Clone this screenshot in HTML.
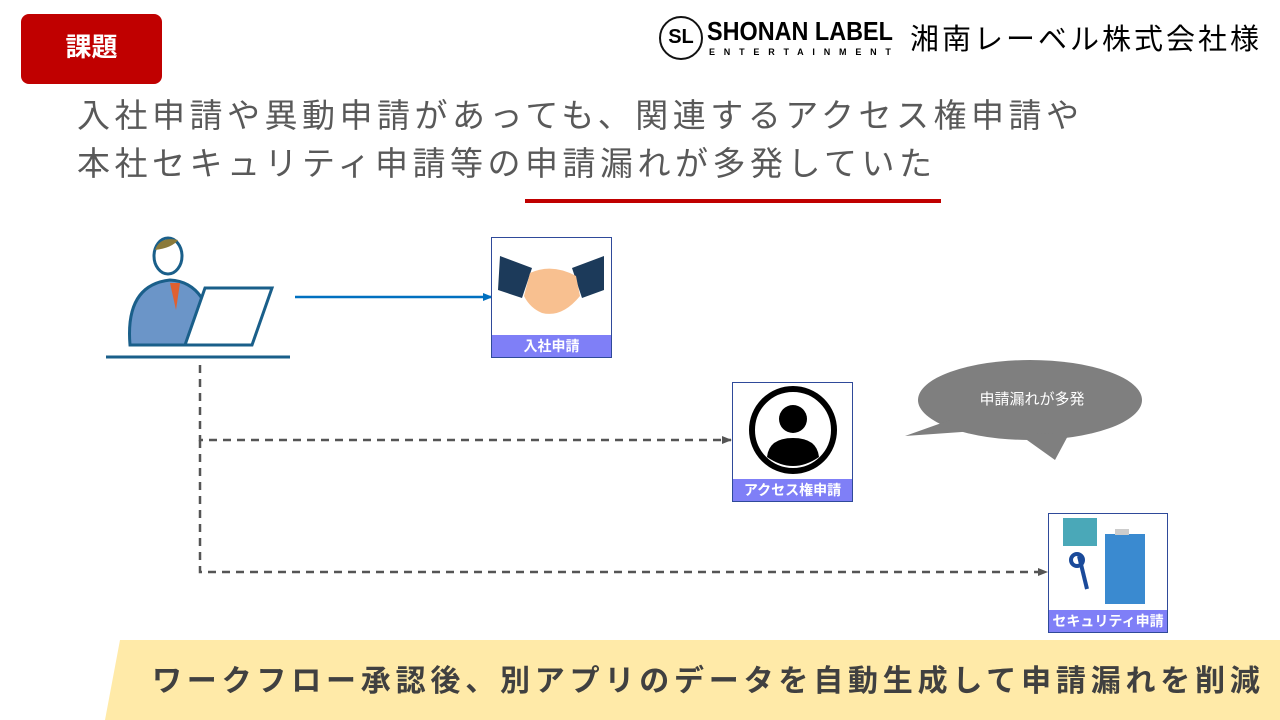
<!DOCTYPE html>
<html><head><meta charset="utf-8"><style>
body{margin:0;width:1280px;height:720px;position:relative;background:#fff;font-family:"Liberation Sans","Noto Sans CJK JP",sans-serif;overflow:hidden}
.a{position:absolute;white-space:nowrap}
.box{position:absolute;border:1px solid #2f4a9a;background:#fff}
.lab{position:absolute;left:0;right:0;bottom:0;height:22px;background:#7f7ff7;color:#fff;font-weight:bold;font-size:14px;text-align:center;line-height:22px;white-space:nowrap}
</style></head><body>
<div class="a" style="left:21px;top:14px;width:141px;height:70px;background:#c00000;border-radius:8px;color:#fff;font-size:26px;font-weight:bold;text-align:center;line-height:66px">課題</div>
<div class="a" style="left:659px;top:16px;width:44px;height:44px;border:2px solid #111;border-radius:50%;box-sizing:border-box;font-weight:bold;font-size:20px;line-height:38px;text-align:center">SL</div>
<div class="a" style="left:707px;top:16px;font-weight:bold;font-size:26px;transform:scaleX(0.9);transform-origin:left;line-height:30px">SHONAN LABEL</div>
<div class="a" style="left:709px;top:47px;font-size:9px;font-weight:bold;letter-spacing:8.8px">ENTERTAINMENT</div>
<div class="a" style="left:910px;top:20px;font-size:29px;line-height:40px;letter-spacing:3px">湘南レーベル株式会社様</div>
<div class="a" style="left:77px;top:92px;font-size:33px;color:#595959;line-height:48px;letter-spacing:4.5px">入社申請や異動申請があっても、関連するアクセス権申請や<br>本社セキュリティ申請等の申請漏れが多発していた</div>
<div class="a" style="left:525px;top:199px;width:416px;height:4px;background:#c00000"></div>
<svg class="a" style="left:0;top:0" width="1280" height="720">
<defs><marker id="m" markerUnits="userSpaceOnUse" markerWidth="10" markerHeight="10" refX="9" refY="5" orient="auto"><path d="M0,1L10,5L0,9z" fill="#555"/></marker>
<marker id="mb" markerUnits="userSpaceOnUse" markerWidth="10" markerHeight="10" refX="9" refY="5" orient="auto"><path d="M0,1L10,5L0,9z" fill="#0070c0"/></marker></defs>
<ellipse cx="168" cy="256" rx="14" ry="18" fill="#fff" stroke="#1a5f8a" stroke-width="3"/>
<path d="M155,250 Q160,236 178,240 Q172,248 155,250z" fill="#8b7a3a"/>
<path d="M130,345 Q125,285 170,280 Q210,282 215,345z" fill="#6b95c8" stroke="#1a5f8a" stroke-width="3"/>
<path d="M170,283 L176,310 L180,283" fill="#e06030"/>
<path d="M205,288 L272,288 L252,345 L185,345z" fill="#fff" stroke="#1a5f8a" stroke-width="3"/>
<line x1="106" y1="357" x2="290" y2="357" stroke="#1a5f8a" stroke-width="3"/>
<line x1="295" y1="297" x2="492" y2="297" stroke="#0070c0" stroke-width="2.5" marker-end="url(#mb)"/>
<path d="M200,365 L200,440 L731,440" fill="none" stroke="#555" stroke-width="2.5" stroke-dasharray="8,6" marker-end="url(#m)"/>
<path d="M200,440 L200,572 L1047,572" fill="none" stroke="#555" stroke-width="2.5" stroke-dasharray="8,6" marker-end="url(#m)"/>
<ellipse cx="1030" cy="400" rx="112" ry="40" fill="#7f7f7f"/>
<path d="M950,420 L905,436 L990,430z M1020,435 L1055,460 L1070,432z" fill="#7f7f7f"/>
<text x="1032" y="404" font-size="15" fill="#fff" text-anchor="middle" font-family="Liberation Sans,Noto Sans CJK JP,sans-serif">申請漏れが多発</text>
<path d="M120,640 L1280,640 L1280,720 L105,720z" fill="#ffeaa8"/>
</svg>
<div class="box" style="left:491px;top:237px;width:119px;height:119px">
<svg width="119" height="97"><path d="M8,18 L40,30 L30,60 L6,52z M112,18 L80,30 L90,60 L112,52z" fill="#1c3a5a"/><path d="M38,35 Q60,25 84,38 L88,58 Q70,80 50,75 Q38,70 32,58z" fill="#f8c090"/></svg>
<div class="lab">入社申請</div></div>
<div class="box" style="left:732px;top:382px;width:119px;height:118px">
<svg width="119" height="96"><circle cx="60" cy="47" r="41" fill="none" stroke="#000" stroke-width="6"/><circle cx="60" cy="36" r="14" fill="#000"/><path d="M34,74 Q36,55 60,55 Q84,55 86,74 Q60,92 34,74z" fill="#000"/></svg>
<div class="lab">アクセス権申請</div></div>
<div class="box" style="left:1048px;top:513px;width:118px;height:118px">
<svg width="118" height="96"><rect x="14" y="4" width="34" height="28" fill="#4aa8b8"/><path d="M30,42 L38,75" stroke="#1a4a9a" stroke-width="4"/><circle cx="28" cy="46" r="6" fill="none" stroke="#1a4a9a" stroke-width="4"/><rect x="56" y="20" width="40" height="70" fill="#3a8ad0"/><rect x="66" y="15" width="14" height="6" fill="#ccc"/></svg>
<div class="lab">セキュリティ申請</div></div>
<div class="a" style="left:152px;top:660px;font-size:30px;font-weight:bold;color:#404040;line-height:44px;letter-spacing:4.8px">ワークフロー承認後、別アプリのデータを自動生成して申請漏れを削減</div>
</body></html>
